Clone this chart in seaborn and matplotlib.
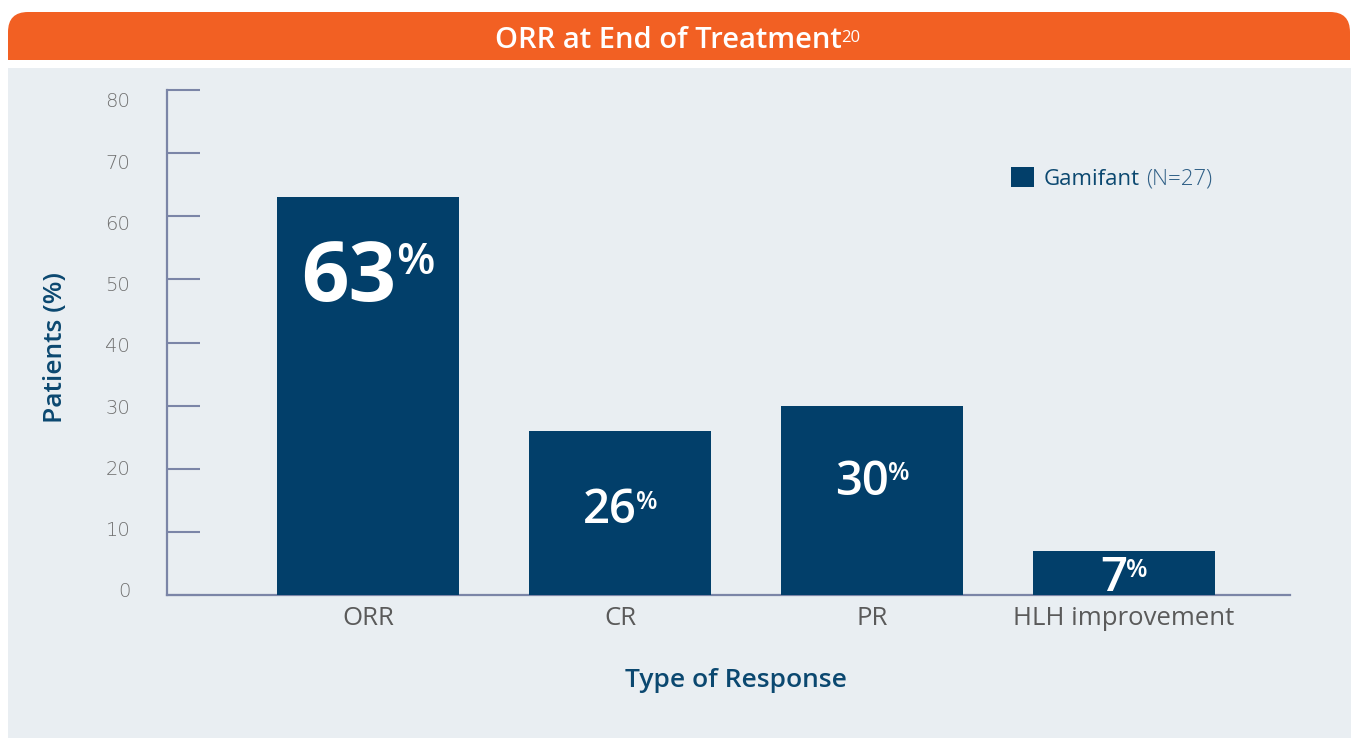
import matplotlib
matplotlib.use("Agg")
import matplotlib.pyplot as plt
from matplotlib.patches import Rectangle, FancyBboxPatch, Patch
import seaborn as sns
import pandas as pd

# ---- data ----
categories = ["ORR", "CR", "PR", "HLH improvement"]
values = [63, 26, 30, 7]
y_ticks = [0, 10, 20, 30, 40, 50, 60, 70, 80]
series_name = "Gamifant"
series_n = "(N=27)"
title = "ORR at End of Treatment"
title_ref = "20"
y_label = "Patients (%)"
x_label = "Type of Response"

# ---- style ----
BAR = "#023F6A"
ORANGE = "#F26023"
PANEL = "#E9EEF2"
AXIS = "#7B85A7"
DARK = "#0B4870"
W, H, DPI = 1351, 738, 100
label_drop_px = [104, 92, 89, 40]   # baseline distance below bar top
label_sizes = [60, 34, 34, 34]
pct_sizes = [32, 18, 18, 18]
label_weights = ["bold", "semibold", "semibold", "semibold"]
pct_gap = [0, -0.5, -0.5, -0.5]
label_axis_lim = (-0.82, 81.6)      # tick-label column is drawn slightly compressed

sns.set_style("white")
plt.rcParams["font.family"] = ["Open Sans", "DejaVu Sans"]

fig = plt.figure(figsize=(W / DPI, H / DPI), dpi=DPI)
fig.patch.set_facecolor("white")

def fx(px):
    return px / W

def fy(py):
    return 1 - py / H

# background panel
fig.patches.append(Rectangle((fx(8), 0), 1 - fx(8), fy(68), transform=fig.transFigure,
                             facecolor=PANEL, edgecolor="none", zorder=-5))
# orange header with rounded top corners (inch coordinates)
fig.patches.append(FancyBboxPatch((0.08, (H - 60) / DPI), (1350 - 8) / DPI, 0.48,
                                  boxstyle="round,pad=0,rounding_size=0.2",
                                  transform=fig.dpi_scale_trans,
                                  facecolor=ORANGE, edgecolor="none", zorder=-5))
fig.patches.append(Rectangle((0.08, (H - 60) / DPI), (1350 - 8) / DPI, 0.25,
                             transform=fig.dpi_scale_trans,
                             facecolor=ORANGE, edgecolor="none", zorder=-5))

t_title = fig.text(fx(668), fy(48), title, ha="center", va="baseline", color="white",
                   fontsize=21, fontweight="semibold")

rect = [fx(167), fy(595), fx(1290) - fx(167), fy(90) - fy(595)]

# tick-label column (separate, label-only axis)
ax_lab = fig.add_axes(rect)
ax_lab.set_facecolor("none")
ax_lab.set_ylim(*label_axis_lim)
ax_lab.set_yticks(y_ticks)
ax_lab.set_yticklabels([str(t) for t in y_ticks])
ax_lab.set_xticks([])
for s in ax_lab.spines.values():
    s.set_visible(False)
ax_lab.tick_params(axis="y", length=0, labelsize=14, labelcolor="#6F6F6F", pad=26.5)
for lab in ax_lab.get_yticklabels():
    lab.set_fontfamily(["DejaVu Sans"])
    lab.set_fontweight(200)

ax = fig.add_axes(rect)
ax.set_facecolor("none")

df = pd.DataFrame({"Type": categories, "Patients": values})
sns.barplot(data=df, x="Type", y="Patients", color=BAR, saturation=1, width=0.722,
            ax=ax, zorder=3, linewidth=0, edgecolor=BAR)

ax.set_xlim(-0.798, 3.659)
ax.set_ylim(0, 80)
ax.set_yticks(y_ticks)

for s in ["top", "right"]:
    ax.spines[s].set_visible(False)
for s in ["left", "bottom"]:
    ax.spines[s].set_color(AXIS)
    ax.spines[s].set_linewidth(1.6)

ax.tick_params(axis="y", direction="in", length=24, width=1.5, color=AXIS,
               labelleft=False, left=True)
ax.tick_params(axis="x", length=0, labelsize=18.5, labelcolor="#5A5A5A", pad=8)

ax.set_ylabel(y_label, fontsize=19, fontweight="semibold", color=DARK)
ax.yaxis.label.set_va("center")
ax.yaxis.set_label_coords((55 - 167) / 1123, (595 - 348) / 505)
ax.set_xlabel(x_label, fontsize=19, fontweight="semibold", color=DARK)
ax.xaxis.label.set_va("baseline")
ax.xaxis.set_label_coords((736 - 167) / 1123, (595 - 687) / 505)

# legend
leg = ax.legend(handles=[Patch(facecolor=BAR, edgecolor="none")], labels=[series_name],
                loc="upper left", bbox_to_anchor=(fx(1011), fy(167)),
                bbox_transform=fig.transFigure, frameon=False, fontsize=16,
                handlelength=1.04, handleheight=1.04, handletextpad=0.45,
                borderpad=0, borderaxespad=0)
for t in leg.get_texts():
    t.set_color(DARK)
ax.annotate(series_n, xy=(1, 0), xycoords=leg.get_texts()[0], xytext=(4, 0),
            textcoords="offset points", ha="left", va="bottom", fontsize=16,
            color="#2F5F86", fontweight="light")

# title superscript
ax.annotate(title_ref, xy=(1, 1), xycoords=t_title, xytext=(0, -3),
            textcoords="offset points", ha="left", va="top", fontsize=12,
            color="white", annotation_clip=False)

# bar value labels
fig.canvas.draw()
renderer = fig.canvas.get_renderer()
pt = 72 / DPI
for i, v in enumerate(values):
    num = ax.annotate(str(v), xy=(i, v), xytext=(0, -label_drop_px[i] * pt),
                      textcoords="offset points", ha="left", va="baseline",
                      color="white", fontsize=label_sizes[i],
                      fontweight=label_weights[i], zorder=5)
    pct = ax.annotate("%", xy=(1, 1), xycoords=num, xytext=(pct_gap[i], -2),
                      textcoords="offset points", ha="left", va="top",
                      color="white", fontsize=pct_sizes[i], fontweight="semibold",
                      zorder=5)
    fig.canvas.draw()
    b1 = num.get_window_extent(renderer)
    b2 = pct.get_window_extent(renderer)
    total = b2.x1 - b1.x0
    num.set_position((-total / 2 * pt, -label_drop_px[i] * pt))

fig.savefig("out.png", dpi=DPI, facecolor="white")
